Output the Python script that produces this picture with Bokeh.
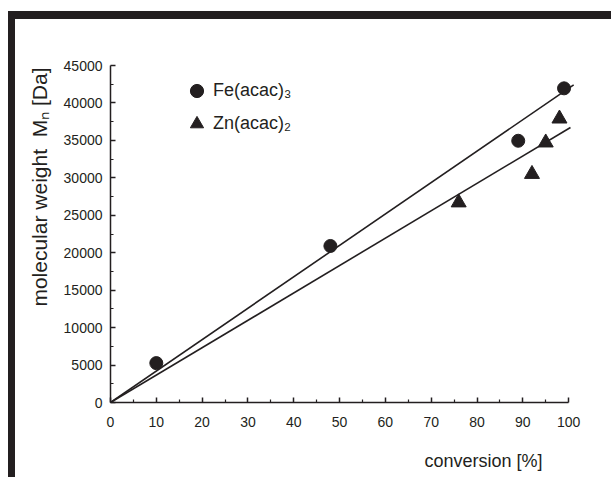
from bokeh.plotting import figure
from bokeh.models import Range1d, Legend, LegendItem, FixedTicker, Title
from bokeh.embed import file_html
from bokeh.resources import INLINE

# ---- data ----
fe_conv = [10, 48, 89, 99]
fe_mw = [5260, 20900, 34950, 41950]
zn_conv = [76, 92, 95, 98]
zn_mw = [26700, 30500, 34700, 37900]
fe_fit_conv = [0, 101.1]
fe_fit_mw = [0, 42420]
zn_fit_conv = [0, 100.4]
zn_fit_mw = [0, 36720]
x_ticks = [0, 10, 20, 30, 40, 50, 60, 70, 80, 90, 100]
x_minor = [5, 15, 25, 35, 45, 55, 65, 75, 85, 95]
y_ticks = [0, 5000, 10000, 15000, 20000, 25000, 30000, 35000, 40000, 45000]
y_minor = [2500, 7500, 12500, 17500, 22500, 27500, 32500, 37500, 42500]

INK = "#231f20"
FONT = "Liberation Sans"

p = figure(frame_width=465, frame_height=337,
           x_range=Range1d(0, 101.5), y_range=Range1d(0, 45000),
           output_backend="svg", toolbar_location=None,
           min_border_left=95, min_border_right=36, min_border_top=46, min_border_bottom=73)
p.styles = {"margin-left": "8px", "margin-top": "11px",
            "border-left": "7px solid #231f20", "border-top": "8px solid #231f20"}
p.background_fill_color = "white"
p.border_fill_color = "white"
p.outline_line_color = None
p.xgrid.visible = False
p.ygrid.visible = False

p.xaxis.ticker = FixedTicker(ticks=x_ticks, minor_ticks=x_minor)
p.yaxis.ticker = FixedTicker(ticks=y_ticks, minor_ticks=y_minor)
p.xaxis.bounds = (0, 100)
for ax in (p.xaxis, p.yaxis):
    ax.axis_line_color = INK
    ax.axis_line_width = 1.5
    ax.major_tick_line_color = INK
    ax.minor_tick_line_color = INK
    ax.major_tick_line_width = 1.5
    ax.minor_tick_line_width = 1.2
    ax.major_tick_in = 5
    ax.major_tick_out = 0
    ax.minor_tick_in = 3
    ax.minor_tick_out = 0
    ax.major_label_text_font = FONT
    ax.major_label_text_font_size = "14px"
    ax.major_label_text_color = INK
p.xaxis.major_label_standoff = 14
p.yaxis.major_label_standoff = 8

p.line(fe_fit_conv, fe_fit_mw, line_width=1.6, line_color=INK)
p.line(zn_fit_conv, zn_fit_mw, line_width=1.6, line_color=INK)
r_fe = p.scatter(fe_conv, fe_mw, marker="circle", size=13, fill_color=INK, line_color=INK)
r_zn = p.scatter(zn_conv, zn_mw, marker="triangle", size=15, fill_color=INK, line_color=INK)

legend = Legend(items=[LegendItem(label="Fe(acac)\u2083", renderers=[r_fe]),
                       LegendItem(label="Zn(acac)\u2082", renderers=[r_zn])],
                location=(70, 262), orientation="vertical",
                padding=0, margin=0, spacing=-4,
                glyph_width=33, glyph_height=33, label_height=20,
                label_standoff=0,
                label_text_font=FONT, label_text_font_size="18px", label_text_color=INK,
                background_fill_alpha=0, border_line_color=None)
p.add_layout(legend, "center")

xlab = Title(text="conversion [%]", align="right", offset=33, standoff=38,
             text_font=FONT, text_font_size="18px", text_font_style="normal",
             text_color=INK)
p.add_layout(xlab, "below")
ylab = Title(text="molecular weight\u00a0 M\u2099 [Da]", align="right", offset=2, standoff=20,
             text_font=FONT, text_font_size="21px", text_font_style="normal",
             text_color=INK)
p.add_layout(ylab, "left")

html = file_html(p, INLINE)
html = html.replace("<body>", '<body style="margin:0;overflow:hidden;background-color:#c0c0c0;">', 1)
open("out.html", "w").write(html)
